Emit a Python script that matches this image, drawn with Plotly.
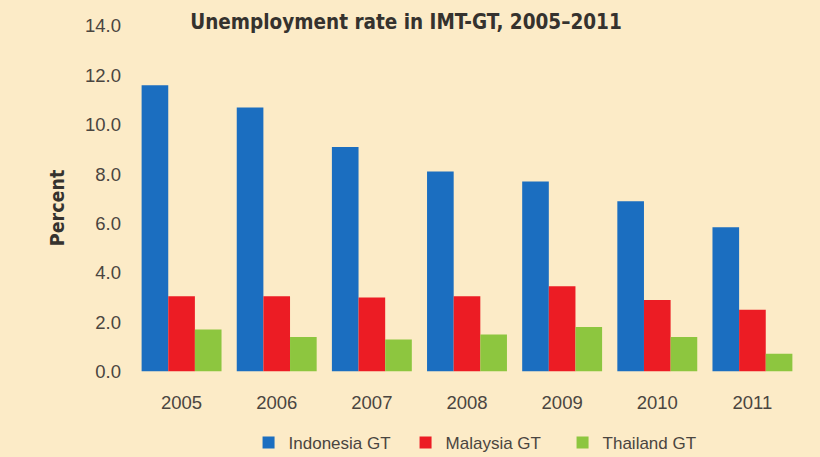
import plotly.graph_objects as go

years = ["2005", "2006", "2007", "2008", "2009", "2010", "2011"]
indonesia = [11.6, 10.7, 9.1, 8.1, 7.7, 6.9, 5.85]
malaysia = [3.05, 3.05, 3.0, 3.05, 3.45, 2.9, 2.5]
thailand = [1.7, 1.4, 1.3, 1.5, 1.8, 1.4, 0.72]
yticks = [0, 2, 4, 6, 8, 10, 12, 14]

bg = "#FCEBC7"
txt = "#4a4540"

fig = go.Figure()
fig.add_bar(x=years, y=indonesia, name="Indonesia GT", marker_color="#1B6EC0",
            marker_line_width=0)
fig.add_bar(x=years, y=malaysia, name="Malaysia GT", marker_color="#EC1C24",
            marker_line_width=0)
fig.add_bar(x=years, y=thailand, name="Thailand GT", marker_color="#8DC63F",
            marker_line_width=0)

L, R, T, B = 134, 20, 26, 84
pw, ph = 820 - L - R, 457 - T - B

fig.update_layout(
    width=820, height=457,
    paper_bgcolor=bg, plot_bgcolor=bg,
    margin=dict(l=L, r=R, t=T, b=B),
    barmode="group", bargap=0.16, bargroupgap=0,
    title=dict(text="<b>Unemployment rate in IMT-GT, 2005\u20132011</b>",
               x=406 / 820, xanchor="center", y=1 - 22 / 457, yanchor="middle",
               font=dict(family="DejaVu Sans Condensed, DejaVu Sans", size=20.5, color="#35322e")),
    font=dict(family="Liberation Sans, Arial", color=txt),
    showlegend=True,
    legend=dict(orientation="h", x=431 / 820, xanchor="center", xref="paper",
                yref="container", y=(457 - 443) / 457, yanchor="middle",
                font=dict(size=17, color=txt),
                bgcolor="rgba(0,0,0,0)", itemwidth=30, entrywidth=112,
                traceorder="normal"),
    annotations=[dict(text="<b>Percent</b>", textangle=-90, showarrow=False,
                      xref="paper", yref="paper",
                      x=(57 - L) / pw, y=(457 - B - 209) / ph,
                      xanchor="center", yanchor="middle",
                      font=dict(family="DejaVu Sans Condensed, DejaVu Sans", size=19.5, color="#35322e"))],
)
fig.update_xaxes(showgrid=False, zeroline=False, showline=False,
                 tickfont=dict(size=18.5, color=txt), ticks="", ticklabelstandoff=18)
fig.update_yaxes(range=[0, 14], tickvals=yticks, tickformat=".1f",
                 showgrid=False, zeroline=False, showline=False,
                 tickfont=dict(size=18.5, color=txt), ticks="", ticklabelstandoff=12)

fig.write_html("out.html")
